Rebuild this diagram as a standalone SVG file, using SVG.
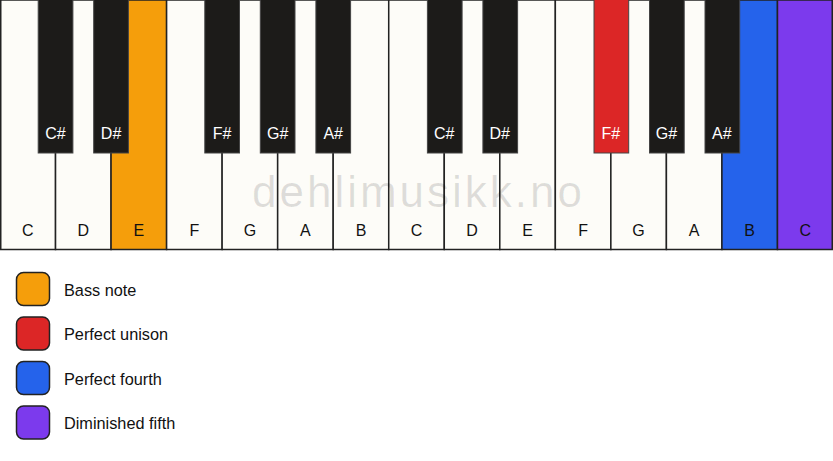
<svg xmlns="http://www.w3.org/2000/svg" width="833" height="461" viewBox="0 0 833 461">
<style>
.w{fill:#fdfcf8;stroke:#222;stroke-width:1.5}
.b{fill:#1c1b19;stroke:#444;stroke-width:1}
.wl{font-family:"Liberation Sans",Arial,sans-serif;font-size:16px;fill:#111;text-anchor:middle}
.bl{font-family:"Liberation Sans",Arial,sans-serif;font-size:16px;fill:#fff;text-anchor:middle}
.lg{font-family:"Liberation Sans",Arial,sans-serif;font-size:16.3px;fill:#111}
.sw{stroke:#222;stroke-width:1.5}
</style>
<rect x="0" y="0" width="833" height="461" fill="#ffffff"/>
<g id="white-keys">
<g id="key-C1"><rect class="w" x="0.75" y="0" width="54.78" height="249.5"/><text class="wl" x="27.8" y="236">C</text></g>
<g id="key-D1"><rect class="w" x="55.53" y="0" width="55.53" height="249.5"/><text class="wl" x="83.3" y="236">D</text></g>
<g id="key-E1"><rect class="w" x="111.07" y="0" width="55.53" height="249.5" style="fill:#f59e0b"/><text class="wl" x="138.8" y="236">E</text></g>
<g id="key-F1"><rect class="w" x="166.6" y="0" width="55.53" height="249.5"/><text class="wl" x="194.4" y="236">F</text></g>
<g id="key-G1"><rect class="w" x="222.13" y="0" width="55.53" height="249.5"/><text class="wl" x="249.9" y="236">G</text></g>
<g id="key-A1"><rect class="w" x="277.67" y="0" width="55.53" height="249.5"/><text class="wl" x="305.4" y="236">A</text></g>
<g id="key-B1"><rect class="w" x="333.2" y="0" width="55.53" height="249.5"/><text class="wl" x="361" y="236">B</text></g>
<g id="key-C2"><rect class="w" x="388.73" y="0" width="55.53" height="249.5"/><text class="wl" x="416.5" y="236">C</text></g>
<g id="key-D2"><rect class="w" x="444.27" y="0" width="55.53" height="249.5"/><text class="wl" x="472" y="236">D</text></g>
<g id="key-E2"><rect class="w" x="499.8" y="0" width="55.53" height="249.5"/><text class="wl" x="527.6" y="236">E</text></g>
<g id="key-F2"><rect class="w" x="555.33" y="0" width="55.53" height="249.5"/><text class="wl" x="583.1" y="236">F</text></g>
<g id="key-G2"><rect class="w" x="610.87" y="0" width="55.53" height="249.5"/><text class="wl" x="638.6" y="236">G</text></g>
<g id="key-A2"><rect class="w" x="666.4" y="0" width="55.53" height="249.5"/><text class="wl" x="694.2" y="236">A</text></g>
<g id="key-B2"><rect class="w" x="721.93" y="0" width="55.53" height="249.5" style="fill:#2563eb"/><text class="wl" x="749.7" y="236">B</text></g>
<g id="key-C3"><rect class="w" x="777.47" y="0" width="54.78" height="249.5" style="fill:#7c3aed"/><text class="wl" x="805.2" y="236">C</text></g>
</g>
<text x="252" y="206.5" font-family="'Liberation Sans',Arial,sans-serif" font-size="44" letter-spacing="3" fill="#000" fill-opacity="0.12">dehlimusikk.no</text>
<g id="black-keys">
<g id="key-Cs1"><rect class="b" x="38.2" y="-1" width="34.7" height="154"/><text class="bl" x="55.5" y="139">C#</text></g>
<g id="key-Ds1"><rect class="b" x="93.7" y="-1" width="34.7" height="154"/><text class="bl" x="111.1" y="139">D#</text></g>
<g id="key-Fs1"><rect class="b" x="204.8" y="-1" width="34.7" height="154"/><text class="bl" x="222.1" y="139">F#</text></g>
<g id="key-Gs1"><rect class="b" x="260.3" y="-1" width="34.7" height="154"/><text class="bl" x="277.7" y="139">G#</text></g>
<g id="key-As1"><rect class="b" x="315.9" y="-1" width="34.7" height="154"/><text class="bl" x="333.2" y="139">A#</text></g>
<g id="key-Cs2"><rect class="b" x="427.4" y="-1" width="34.7" height="154"/><text class="bl" x="444.3" y="139">C#</text></g>
<g id="key-Ds2"><rect class="b" x="482.9" y="-1" width="34.7" height="154"/><text class="bl" x="499.8" y="139">D#</text></g>
<g id="key-Fs2"><rect class="b" x="594" y="-1" width="34.7" height="154" style="fill:#dc2626"/><text class="bl" x="610.9" y="139">F#</text></g>
<g id="key-Gs2"><rect class="b" x="649.5" y="-1" width="34.7" height="154"/><text class="bl" x="666.4" y="139">G#</text></g>
<g id="key-As2"><rect class="b" x="705" y="-1" width="34.7" height="154"/><text class="bl" x="721.9" y="139">A#</text></g>
</g>
<g id="legend">
<g id="legend-bass"><rect class="sw" x="16.5" y="272.5" width="33" height="33" rx="7" fill="#f59e0b"/><text class="lg" x="64" y="295.5">Bass note</text></g>
<g id="legend-unison"><rect class="sw" x="16.5" y="317" width="33" height="33" rx="7" fill="#dc2626"/><text class="lg" x="64" y="340">Perfect unison</text></g>
<g id="legend-fourth"><rect class="sw" x="16.5" y="361.5" width="33" height="33" rx="7" fill="#2563eb"/><text class="lg" x="64" y="384.5">Perfect fourth</text></g>
<g id="legend-fifth"><rect class="sw" x="16.5" y="406" width="33" height="33" rx="7" fill="#7c3aed"/><text class="lg" x="64" y="429">Diminished fifth</text></g>
</g>
<g id="connectors"/>
</svg>
